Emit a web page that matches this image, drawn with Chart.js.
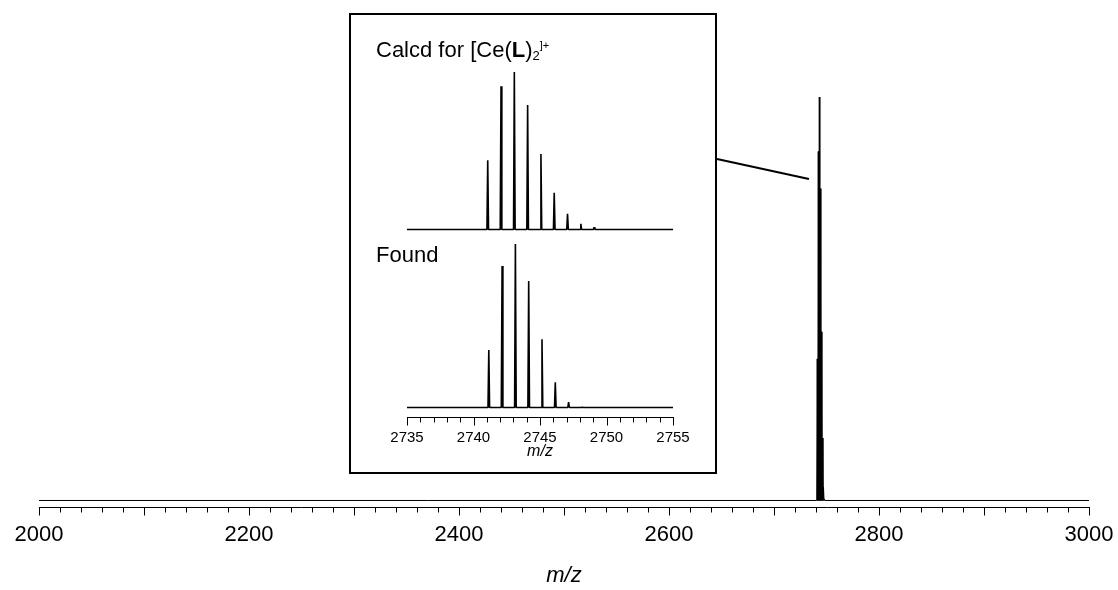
<!DOCTYPE html>
<html>
<head>
<meta charset="utf-8">
<script src="https://cdn.jsdelivr.net/npm/chart.js@4.4.1/dist/chart.umd.min.js"></script>
<style>
    html, body { margin: 0; padding: 0; background: #fff; }
    #lienzo { position: relative; width: 1118px; height: 590px; font-family: 'Liberation Sans', Arial, Helvetica, sans-serif; color: #000; }
    #lienzo canvas { position: absolute; }
    #recuadro { position: absolute; left: 349px; top: 13px; width: 364px; height: 457px; border: 2px solid #000; }
    .etiqueta { position: absolute; left: 376px; font-size: 22px; line-height: 22px; white-space: nowrap; }
    .etiqueta sub { font-size: 13px; vertical-align: -3px; line-height: 0; }
    .etiqueta sup { font-size: 11px; vertical-align: 8px; line-height: 0; }
</style>
</head>
<body>
<div id="lienzo">
    <canvas id="graficaPrincipal" width="1118" height="590" style="left:0;top:0"></canvas>
    <div id="recuadro"></div>
    <canvas id="graficaCalculada" width="362" height="180" style="left:352px;top:60px"></canvas>
    <canvas id="graficaEncontrada" width="362" height="235" style="left:352px;top:236px"></canvas>
    <div class="etiqueta" style="top:39px">Calcd for [Ce(<b>L</b>)<sub>2</sub><sup>]+</sup></div>
    <div class="etiqueta" style="top:244px">Found</div>
</div>
<script>
// patrón isotópico [Ce(L)2]+ : experimental y calculado (intensidad relativa)
const mzEncontrado = [2741.15, 2742.15, 2743.15, 2744.15, 2745.15, 2746.15, 2747.15, 2748.15];
const intEncontrado = [0.351, 0.865, 1.0, 0.773, 0.418, 0.155, 0.033, 0.004];

const mzCalculado = [2741.07, 2742.07, 2743.07, 2744.07, 2745.07, 2746.07, 2747.07, 2748.07, 2749.07];
const intCalculado = [0.44, 0.91, 1.0, 0.79, 0.48, 0.234, 0.10, 0.036, 0.015];

const ticksPrincipal = [2000, 2200, 2400, 2600, 2800, 3000];
const ticksRecuadro = [2735, 2740, 2745, 2750, 2755];

Chart.defaults.font.family = "'Liberation Sans', Arial, Helvetica, sans-serif";
Chart.defaults.color = '#000';

// convierte la lista de picos en un perfil de líneas sobre la línea base
function perfilPicos(mz, intensidades, desde, hasta, semiancho) {
    const puntos = [{ x: desde, y: 0 }];
    mz.forEach((m, i) => {
        puntos.push({ x: m - semiancho, y: 0 }, { x: m, y: intensidades[i] }, { x: m + semiancho, y: 0 });
    });
    puntos.push({ x: hasta, y: 0 });
    return puntos;
}

// eje propio: línea del eje y marcas menores / mayores con distinta longitud
const marcasEje = {
    id: 'marcasEje',
    afterDraw(chart, args, opts) {
        const escala = chart.scales.x;
        const ctx = chart.ctx;
        const y0 = Math.round(escala.top) + 0.5;
        ctx.save();
        ctx.strokeStyle = '#000';
        ctx.lineWidth = 1;
        ctx.beginPath();
        ctx.moveTo(Math.round(escala.left), y0);
        ctx.lineTo(Math.round(escala.right) + 1, y0);
        ctx.stroke();
        const n = Math.round((escala.max - escala.min) / opts.paso);
        for (let i = 0; i <= n; i++) {
            const v = escala.min + i * opts.paso;
            const esMayor = Math.abs(v / opts.mayor - Math.round(v / opts.mayor)) < 1e-6;
            const x = Math.round(escala.getPixelForValue(v)) + 0.5;
            ctx.beginPath();
            ctx.moveTo(x, y0);
            ctx.lineTo(x, y0 + (esMayor ? opts.largoMayor : opts.largoMenor));
            ctx.stroke();
        }
        ctx.restore();
    }
};

// línea que une el recuadro ampliado con el pico
const lineaIndicadora = {
    id: 'lineaIndicadora',
    afterDraw(chart, args, opts) {
        const ctx = chart.ctx;
        ctx.save();
        ctx.strokeStyle = '#000';
        ctx.lineWidth = 2;
        ctx.beginPath();
        ctx.moveTo(opts.inicio.x, opts.inicio.y);
        ctx.lineTo(chart.scales.x.getPixelForValue(opts.fin.mz), chart.scales.y.getPixelForValue(opts.fin.rel));
        ctx.stroke();
        ctx.restore();
    }
};

function opcionesLinea(datos, ancho) {
    return {
        data: datos,
        borderColor: '#000',
        borderWidth: ancho,
        borderJoinStyle: 'bevel',
        pointRadius: 0,
        tension: 0,
        fill: false,
        clip: false
    };
}

// sin relleno extra por las etiquetas: el área queda donde marca layout.padding
function sinRellenoLateral(escala, alto) {
    escala.height = alto;
    escala.paddingLeft = 0;
    escala.paddingRight = 0;
}

new Chart(document.getElementById('graficaPrincipal'), {
    type: 'line',
    data: { datasets: [opcionesLinea(perfilPicos(mzEncontrado, intEncontrado, 2000, 3000, 0.5), 1)] },
    plugins: [marcasEje, lineaIndicadora],
    options: {
        responsive: false,
        animation: false,
        events: [],
        layout: { padding: { top: 97, left: 39, right: 29, bottom: 0 } },
        plugins: {
            legend: { display: false },
            tooltip: { enabled: false },
            marcasEje: { paso: 20, mayor: 100, largoMenor: 5, largoMayor: 8 },
            lineaIndicadora: { inicio: { x: 717, y: 159 }, fin: { mz: 2733.3, rel: 0.797 } }
        },
        scales: {
            x: {
                type: 'linear',
                min: 2000,
                max: 3000,
                afterBuildTicks: escala => { escala.ticks = ticksPrincipal.map(v => ({ value: v })); },
                afterFit: escala => sinRellenoLateral(escala, 83),
                grid: { display: false, drawTicks: false },
                border: { display: false },
                ticks: { padding: 15, font: { size: 22 }, color: '#000', maxRotation: 0, autoSkip: false, callback: v => String(v) },
                title: { display: true, text: 'm/z', font: { size: 22, style: 'italic' }, color: '#000', padding: { top: 0, bottom: 1 } }
            },
            y: { display: false, min: -0.01611, max: 1 }
        }
    }
});

new Chart(document.getElementById('graficaCalculada'), {
    type: 'line',
    data: { datasets: [opcionesLinea(perfilPicos(mzCalculado, intCalculado, 2735, 2755, 0.06), 1.6)] },
    options: {
        responsive: false,
        animation: false,
        events: [],
        layout: { padding: { top: 12, left: 55, right: 41, bottom: 10.5 } },
        plugins: { legend: { display: false }, tooltip: { enabled: false } },
        scales: {
            x: { type: 'linear', min: 2735, max: 2755, display: false },
            y: { display: false, min: 0, max: 1 }
        }
    }
});

new Chart(document.getElementById('graficaEncontrada'), {
    type: 'line',
    data: { datasets: [opcionesLinea(perfilPicos(mzEncontrado, intEncontrado, 2735, 2755, 0.06), 1.6)] },
    plugins: [marcasEje],
    options: {
        responsive: false,
        animation: false,
        events: [],
        layout: { padding: { top: 8, left: 55, right: 41, bottom: 0 } },
        plugins: {
            legend: { display: false },
            tooltip: { enabled: false },
            marcasEje: { paso: 1, mayor: 5, largoMenor: 5, largoMayor: 8 }
        },
        scales: {
            x: {
                type: 'linear',
                min: 2735,
                max: 2755,
                afterBuildTicks: escala => { escala.ticks = ticksRecuadro.map(v => ({ value: v })); },
                afterFit: escala => sinRellenoLateral(escala, 54),
                grid: { display: false, drawTicks: false },
                border: { display: false },
                ticks: { padding: 12, font: { size: 15 }, color: '#000', maxRotation: 0, autoSkip: false, callback: v => String(v) },
                title: { display: true, text: 'm/z', font: { size: 16, style: 'italic' }, color: '#000', padding: { top: 0, bottom: 10 } }
            },
            y: { display: false, min: -0.0581, max: 1 }
        }
    }
});
</script>
</body>
</html>
